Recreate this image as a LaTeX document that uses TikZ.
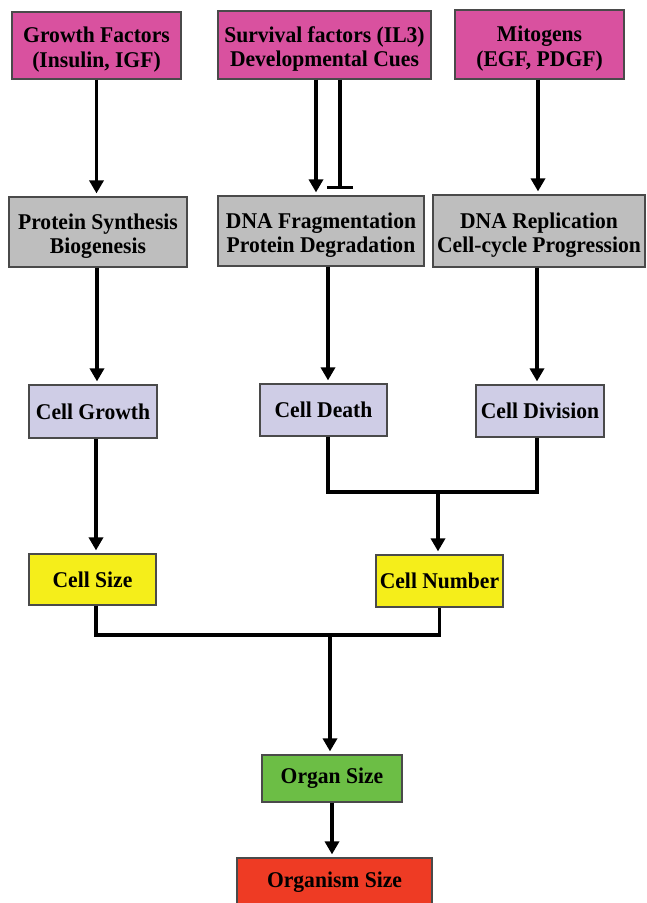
\documentclass[tikz,border=0pt]{standalone}
\usepackage{fontspec}
\setmainfont{Liberation Serif}[FakeStretch=0.96]
\usepackage{xcolor}
\usepackage{tikz}
\usetikzlibrary{arrows.meta,positioning}
\definecolor{factor}{HTML}{D9519F}
\definecolor{process}{HTML}{BEBEBE}
\definecolor{cellfill}{HTML}{CFCDE6}
\definecolor{sizefill}{HTML}{F5EE1A}
\definecolor{organfill}{HTML}{6CBE45}
\definecolor{organism}{HTML}{EE3B24}
\definecolor{boxline}{HTML}{4A4A4A}
\tikzset{
  BaseBox/.style={
    draw=boxline, line width=1.2pt,
    align=center, inner sep=1pt,
    font=\fontsize{22.5}{24.5}\selectfont\bfseries
  },
  FactorBox/.style={BaseBox, fill=factor},
  ProcessBox/.style={BaseBox, fill=process},
  CellBox/.style={BaseBox, fill=cellfill},
  SizeBox/.style={BaseBox, fill=sizefill},
  OrganBox/.style={BaseBox, fill=organfill},
  OrganismBox/.style={BaseBox, fill=organism},
  Flow/.style={line width=3.5pt, -{Triangle[width=14pt,length=13pt]}, shorten >=3pt},
  Block/.style={line width=3.5pt, -{Bar[width=26pt]}, shorten >=6pt},
  Link/.style={line width=3.5pt, line join=miter}
}
% two lines of box text, set a little low in the box
\newcommand{\TwoRows}[2]{%
  \raisebox{-4.5pt}[\height][\depth]{\begin{tabular}{@{}c@{}}#1\\#2\end{tabular}}%
}

\begin{document}
\begin{tikzpicture}[x=1pt, y=-1pt]
  \useasboundingbox (0,0) rectangle (646,903);
  % signals
  \node[FactorBox, minimum width=169pt, minimum height=67pt] (GF) at (96.5,45.5)
    {\TwoRows{Growth Factors}{(Insulin, IGF)}};
  \node[FactorBox, minimum width=213pt, minimum height=68pt] (SF) at (324.5,45)
    {\TwoRows{Survival factors (IL3)}{Developmental Cues}};
  \node[FactorBox, minimum width=169pt, minimum height=69pt] (MG) at (539.5,44.5)
    {\TwoRows{Mitogens}{(EGF, PDGF)}};
  % processes
  \node[ProcessBox, minimum width=178pt, minimum height=70pt] (PS) at (98,232)
    {\TwoRows{Protein Synthesis}{Biogenesis}};
  \node[ProcessBox, minimum width=206pt, minimum height=70pt] (DF) at (321,231)
    {\TwoRows{DNA Fragmentation}{Protein Degradation}};
  \node[ProcessBox, minimum width=212pt, minimum height=72pt] (DR) at (539,231)
    {\TwoRows{DNA Replication}{Cell-cycle Progression}};
  % cell level
  \node[CellBox, minimum width=128pt, minimum height=53pt] (CG) at (93,411.5) {Cell Growth};
  \node[CellBox, minimum width=127pt, minimum height=52pt] (CD) at (323.5,410) {Cell Death};
  \node[CellBox, minimum width=128pt, minimum height=52pt] (CV) at (540,411) {Cell Division};
  \node[SizeBox, minimum width=127pt, minimum height=51pt] (CS) at (92.5,579.5) {Cell Size};
  \node[SizeBox, minimum width=127pt, minimum height=52pt] (CN) at (439.5,581) {Cell Number};
  % organ and organism
  \node[OrganBox, minimum width=140pt, minimum height=47pt] (OS) at (332,778.5) {Organ Size};
  \node[OrganismBox, minimum width=195pt, minimum height=48pt] (OM) at (334.5,882) {Organism Size};

  \coordinate (jn) at (438,492);
  \coordinate (jo) at (330,635);

  % arrows
  \draw[Flow] (GF.south) -- (GF.south |- PS.north);
  \draw[Flow] ([xshift=-8.5pt]SF.south) -- ([xshift=-8.5pt]SF.south |- DF.north);
  \draw[Block] ([xshift=15.5pt]SF.south) -- ([xshift=15.5pt]SF.south |- DF.north);
  \draw[Flow] ([xshift=-1.5pt]MG.south) -- ([xshift=-1.5pt]MG.south |- DR.north);
  \draw[Flow] ([xshift=-1pt]PS.south) -- ([xshift=-1pt]PS.south |- CG.north);
  \draw[Flow] ([xshift=7pt]DF.south) -- ([xshift=7pt]DF.south |- CD.north);
  \draw[Flow] ([xshift=-2pt]DR.south) -- ([xshift=-2pt]DR.south |- CV.north);
  \draw[Flow] ([xshift=3pt]CG.south) -- ([xshift=3pt]CG.south |- CS.north);
  \draw[Link] ([xshift=4.5pt]CD.south) |- (jn) -| ([xshift=-3pt]CV.south);
  \draw[Flow] (jn) -- (jn |- CN.north);
  \draw[Link] ([xshift=3.5pt]CS.south) |- (jo) -| (CN.south);
  \draw[Flow] (jo) -- (jo |- OS.north);
  \draw[Flow] (OS.south) -- (OS.south |- OM.north);
\end{tikzpicture}
\end{document}
